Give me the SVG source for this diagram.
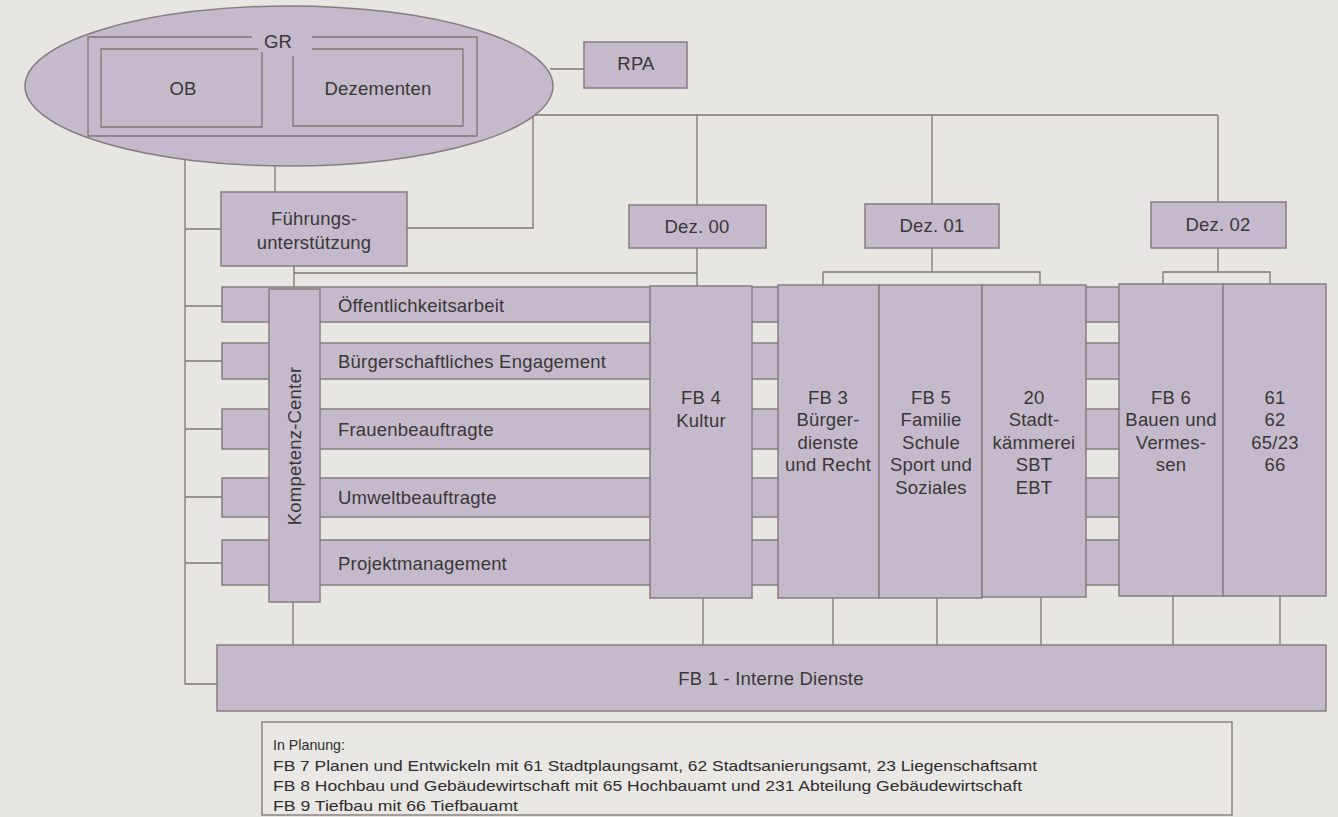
<svg xmlns="http://www.w3.org/2000/svg" width="1338" height="817" viewBox="0 0 1338 817">
<style>
.bg{fill:#e7e6e2}
.n{fill:#c5bacc;stroke:#867d80;stroke-width:1.5}
.c{fill:none;stroke:#7f7773;stroke-width:1.3}
.t{font-family:"Liberation Sans",Arial,sans-serif;font-size:18.5px;letter-spacing:0.2px;fill:#3a3737}
.m{text-anchor:middle}
.p{font-family:"Liberation Sans",Arial,sans-serif;font-size:14.5px;fill:#2f2d2d}
.w{fill:#e9e8e4;stroke:#7f7773;stroke-width:1.3}
</style>
<rect class="bg" x="0" y="0" width="1338" height="817"/>

<g id="connectors">
  <line class="c" x1="550" y1="69" x2="584" y2="69"/>
  <path class="c" d="M533,115 V228 H407"/>
  <path class="c" d="M533,115 H1218"/>
  <line class="c" x1="697" y1="115" x2="697" y2="205"/>
  <line class="c" x1="932" y1="115" x2="932" y2="204"/>
  <line class="c" x1="1218" y1="115" x2="1218" y2="202"/>
  <line class="c" x1="275" y1="164" x2="275" y2="192"/>
  <path class="c" d="M185,158 V684 H217"/>
  <line class="c" x1="185" y1="229" x2="221" y2="229"/>
  <line class="c" x1="185" y1="306" x2="222" y2="306"/>
  <line class="c" x1="185" y1="361" x2="222" y2="361"/>
  <line class="c" x1="185" y1="429" x2="222" y2="429"/>
  <line class="c" x1="185" y1="497" x2="222" y2="497"/>
  <line class="c" x1="185" y1="563" x2="222" y2="563"/>
  <line class="c" x1="294" y1="266" x2="294" y2="289"/>
  <path class="c" d="M294,273 H697"/>
  <line class="c" x1="697" y1="248" x2="697" y2="286"/>
  <path class="c" d="M823,285 V272 H1040 V285"/>
  <line class="c" x1="932" y1="248" x2="932" y2="272"/>
  <path class="c" d="M1163,284 V272 H1270 V284"/>
  <line class="c" x1="1218" y1="248" x2="1218" y2="272"/>
  <line class="c" x1="293" y1="602" x2="293" y2="647"/>
  <line class="c" x1="703" y1="598" x2="703" y2="647"/>
  <line class="c" x1="833" y1="598" x2="833" y2="647"/>
  <line class="c" x1="937" y1="598" x2="937" y2="647"/>
  <line class="c" x1="1041" y1="597" x2="1041" y2="647"/>
  <line class="c" x1="1173" y1="596" x2="1173" y2="647"/>
  <line class="c" x1="1280" y1="596" x2="1280" y2="647"/>
</g>

<g id="gr">
  <ellipse class="n" cx="289" cy="86" rx="264" ry="80"/>
  <path class="c" d="M252,37 H88 V136 H477 V37 H312"/>
  <path class="c" d="M258,49 H101 V127 H262 V52"/>
  <path class="c" d="M312,49 H463 V126 H293 V56"/>
  <text class="t m" x="278" y="48">GR</text>
  <text class="t m" x="183" y="95">OB</text>
  <text class="t m" x="378" y="95">Dezementen</text>
</g>

<g id="rpa">
  <rect class="n" x="584" y="42" width="103" height="46"/>
  <text class="t m" x="636" y="70">RPA</text>
</g>

<g id="fuehrung">
  <rect class="n" x="221" y="192" width="186" height="74"/>
  <text class="t m" x="314" y="225">Führungs-</text>
  <text class="t m" x="314" y="249">unterstützung</text>
</g>

<g id="dez00">
  <rect class="n" x="629" y="205" width="137" height="43"/>
  <text class="t m" x="697" y="233">Dez. 00</text>
</g>
<g id="dez01">
  <rect class="n" x="865" y="204" width="134" height="44"/>
  <text class="t m" x="932" y="232">Dez. 01</text>
</g>
<g id="dez02">
  <rect class="n" x="1151" y="202" width="135" height="46"/>
  <text class="t m" x="1218" y="231">Dez. 02</text>
</g>

<g id="bar-oeff">
  <rect class="n" x="222" y="287" width="1000" height="35"/>
  <text class="t" x="338" y="312">Öffentlichkeitsarbeit</text>
</g>
<g id="bar-buerger">
  <rect class="n" x="222" y="343" width="1000" height="36"/>
  <text class="t" x="338" y="368">Bürgerschaftliches Engagement</text>
</g>
<g id="bar-frauen">
  <rect class="n" x="222" y="409" width="1000" height="40"/>
  <text class="t" x="338" y="436">Frauenbeauftragte</text>
</g>
<g id="bar-umwelt">
  <rect class="n" x="222" y="478" width="1000" height="39"/>
  <text class="t" x="338" y="504">Umweltbeauftragte</text>
</g>
<g id="bar-projekt">
  <rect class="n" x="222" y="540" width="1000" height="45"/>
  <text class="t" x="338" y="570">Projektmanagement</text>
</g>

<g id="kompetenz">
  <rect class="n" x="269" y="289" width="51" height="313"/>
  <text class="t m" transform="translate(301,446) rotate(-90)" x="0" y="0">Kompetenz-Center</text>
</g>

<g id="fb4">
  <rect class="n" x="650" y="286" width="102" height="312"/>
  <text class="t m" x="701" y="404">FB 4</text>
  <text class="t m" x="701" y="427">Kultur</text>
</g>
<g id="fb3">
  <rect class="n" x="778" y="285" width="101" height="313"/>
  <text class="t m" x="828" y="404">FB 3</text>
  <text class="t m" x="828" y="426">Bürger-</text>
  <text class="t m" x="828" y="449">dienste</text>
  <text class="t m" x="828" y="471">und Recht</text>
</g>
<g id="fb5">
  <rect class="n" x="879" y="285" width="103" height="313"/>
  <text class="t m" x="931" y="404">FB 5</text>
  <text class="t m" x="931" y="426">Familie</text>
  <text class="t m" x="931" y="449">Schule</text>
  <text class="t m" x="931" y="471">Sport und</text>
  <text class="t m" x="931" y="494">Soziales</text>
</g>
<g id="fb20">
  <rect class="n" x="982" y="285" width="104" height="312"/>
  <text class="t m" x="1034" y="404">20</text>
  <text class="t m" x="1034" y="426">Stadt-</text>
  <text class="t m" x="1034" y="449">kämmerei</text>
  <text class="t m" x="1034" y="471">SBT</text>
  <text class="t m" x="1034" y="494">EBT</text>
</g>
<g id="fb6">
  <rect class="n" x="1119" y="284" width="104" height="312"/>
  <text class="t m" x="1171" y="404">FB 6</text>
  <text class="t m" x="1171" y="426">Bauen und</text>
  <text class="t m" x="1171" y="449">Vermes-</text>
  <text class="t m" x="1171" y="471">sen</text>
</g>
<g id="fb61">
  <rect class="n" x="1223" y="284" width="103" height="312"/>
  <text class="t m" x="1275" y="404">61</text>
  <text class="t m" x="1275" y="426">62</text>
  <text class="t m" x="1275" y="449">65/23</text>
  <text class="t m" x="1275" y="471">66</text>
</g>

<g id="fb1">
  <rect class="n" x="217" y="645" width="1109" height="66"/>
  <text class="t m" x="771" y="685">FB 1 - Interne Dienste</text>
</g>

<g id="planung">
  <rect class="w" x="262" y="722" width="970" height="93"/>
  <text class="p" x="273" y="750" textLength="72" lengthAdjust="spacingAndGlyphs">In Planung:</text>
  <text class="p" x="273" y="771" textLength="764" lengthAdjust="spacingAndGlyphs">FB 7 Planen und Entwickeln mit 61 Stadtplaungsamt, 62 Stadtsanierungsamt, 23 Liegenschaftsamt</text>
  <text class="p" x="273" y="791" textLength="749" lengthAdjust="spacingAndGlyphs">FB 8 Hochbau und Gebäudewirtschaft mit 65 Hochbauamt und 231 Abteilung Gebäudewirtschaft</text>
  <text class="p" x="273" y="811" textLength="245" lengthAdjust="spacingAndGlyphs">FB 9 Tiefbau mit 66 Tiefbauamt</text>
</g>
</svg>
